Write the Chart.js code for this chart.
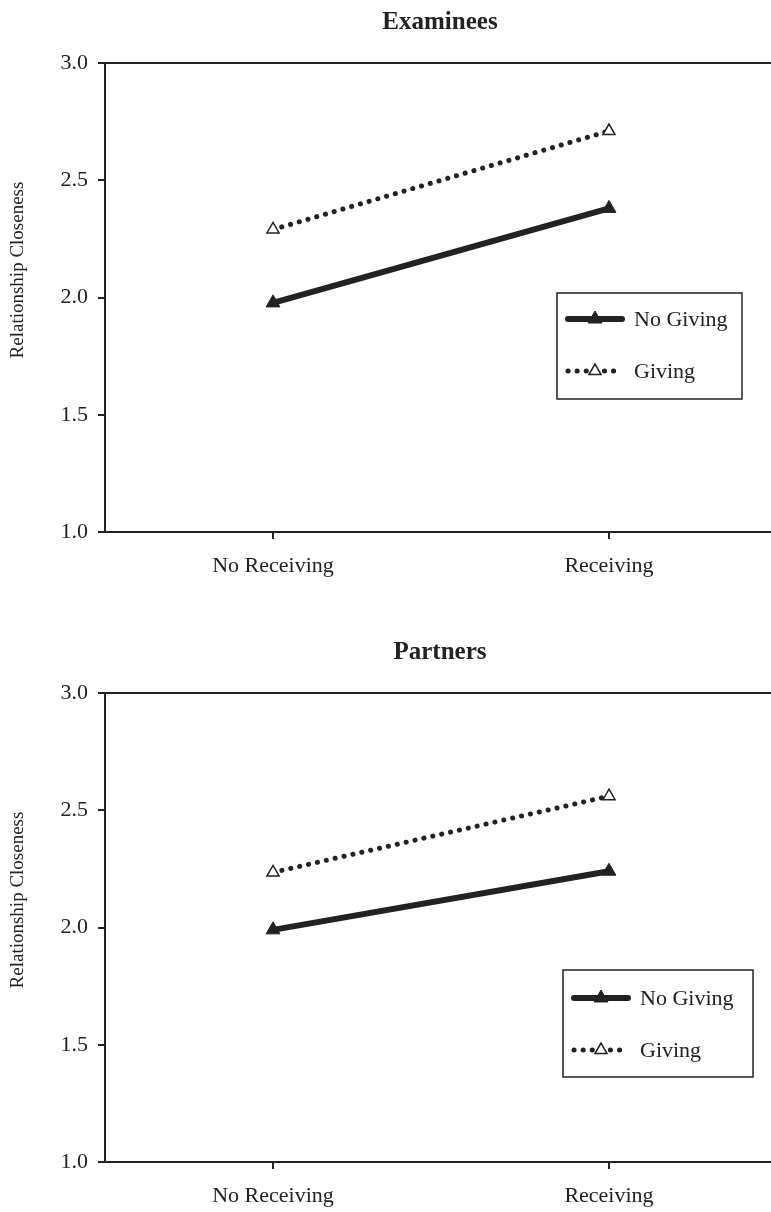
<!DOCTYPE html>
<html>
<head>
<meta charset="utf-8">
<script src="https://cdn.jsdelivr.net/npm/chart.js@4/dist/chart.umd.min.js"></script>
<style>
  html, body { margin: 0; padding: 0; background: #fff; overflow: hidden; }
  #wrap { position: relative; width: 771px; height: 1212px; overflow: hidden; }
  canvas { position: absolute; left: 0; }
  #c1 { top: 0; }
  #c2 { top: 630px; }
</style>
</head>
<body>
<div id="wrap">
  <canvas id="c1" width="786" height="600"></canvas>
  <canvas id="c2" width="786" height="600"></canvas>
</div>
<script>
// Data
var categories = ['No Receiving', 'Receiving'];
var seriesNames = ['No Giving', 'Giving'];
var examineesNoGiving = [1.977, 2.38];
var examineesGiving = [2.29, 2.71];
var partnersNoGiving = [1.99, 2.24];
var partnersGiving = [2.235, 2.56];
var yTicks = [1.0, 1.5, 2.0, 2.5, 3.0];

var INK = '#222';
var SERIF = '"Liberation Serif", "Times New Roman", serif';

// title, axis title, top frame line and legend box
var framePlugin = {
    id: 'frameLegend',
    afterDraw: function(chart, args, opts) {
        var ctx = chart.ctx;
        var area = chart.chartArea;
        ctx.save();

        // panel title, centred over the plot
        ctx.fillStyle = INK;
        ctx.font = 'bold 25px ' + SERIF;
        ctx.textAlign = 'center';
        ctx.textBaseline = 'alphabetic';
        ctx.fillText(opts.title, (area.left + area.right) / 2 - 1, 29);

        // y axis title (sits a bit above the middle in the original)
        ctx.save();
        ctx.translate(18, area.top + 207);
        ctx.rotate(-Math.PI / 2);
        ctx.font = '19px ' + SERIF;
        ctx.textBaseline = 'middle';
        ctx.fillText('Relationship Closeness', 0, 0);
        ctx.restore();

        ctx.strokeStyle = INK;
        ctx.lineWidth = 2;
        ctx.beginPath();
        ctx.moveTo(area.left, area.top);
        ctx.lineTo(area.right, area.top);
        ctx.stroke();

        var bx = area.left + opts.x, by = area.top + opts.y;
        ctx.lineWidth = 1.5;
        ctx.strokeRect(bx, by, opts.w, opts.h);

        chart.data.datasets.forEach(function(ds, i) {
            var rowY = by + opts.rows[i];
            var x0 = bx + 11, x1 = bx + 65;
            ctx.save();
            ctx.strokeStyle = ds.borderColor;
            ctx.lineWidth = ds.borderWidth;
            ctx.lineCap = 'round';
            ctx.setLineDash(ds.borderDash || []);
            ctx.beginPath();
            ctx.moveTo(x0, rowY);
            ctx.lineTo(x1, rowY);
            ctx.stroke();
            ctx.restore();

            ctx.fillStyle = ds.pointBackgroundColor;
            ctx.strokeStyle = ds.pointBorderColor;
            ctx.lineWidth = ds.pointBorderWidth;
            ctx.beginPath();
            var r = ds.pointRadius, cx = (x0 + x1) / 2;
            ctx.moveTo(cx, rowY - r);
            ctx.lineTo(cx + r * 0.866, rowY + r / 2);
            ctx.lineTo(cx - r * 0.866, rowY + r / 2);
            ctx.closePath();
            ctx.fill();
            ctx.stroke();

            ctx.fillStyle = INK;
            ctx.font = '22px ' + SERIF;
            ctx.textAlign = 'left';
            ctx.textBaseline = 'middle';
            ctx.fillText(ds.label, bx + 77, rowY + 1);
        });
        ctx.restore();
    }
};

function makeChart(id, title, noGiving, giving, legendBox) {
    legendBox.title = title;
    var ctx = document.getElementById(id).getContext('2d');
    return new Chart(ctx, {
        type: 'line',
        data: {
            labels: categories,
            datasets: [{
                label: seriesNames[0],
                data: noGiving,
                borderColor: INK,
                borderWidth: 6,
                borderCapStyle: 'round',
                pointStyle: 'triangle',
                pointRadius: 8,
                pointBackgroundColor: INK,
                pointBorderColor: INK,
                pointBorderWidth: 1
            }, {
                label: seriesNames[1],
                data: giving,
                borderColor: INK,
                borderWidth: 5,
                borderCapStyle: 'round',
                borderDash: [0.1, 9],
                pointStyle: 'triangle',
                pointRadius: 7,
                pointBackgroundColor: '#fff',
                pointBorderColor: INK,
                pointBorderWidth: 1.5
            }]
        },
        options: {
            responsive: false,
            animation: false,
            layout: { padding: { left: 0, right: 5, top: 63, bottom: 0 } },
            plugins: {
                legend: { display: false },
                tooltip: { enabled: false },
                title: { display: false },
                frameLegend: legendBox
            },
            scales: {
                x: {
                    type: 'category',
                    offset: true,
                    afterFit: function(s) { s.height = 68; },
                    border: { color: INK, width: 2 },
                    grid: { drawOnChartArea: false, drawTicks: true, tickLength: 7, color: INK, lineWidth: 2 },
                    ticks: { color: INK, padding: 14, font: { family: SERIF, size: 22 } }
                },
                y: {
                    min: 1,
                    max: 3,
                    afterFit: function(s) { s.width = 105; },
                    afterBuildTicks: function(s) { s.ticks = yTicks.map(function(v) { return { value: v }; }); },
                    border: { color: INK, width: 2 },
                    grid: { drawOnChartArea: false, drawTicks: true, tickLength: 7, color: INK, lineWidth: 2 },
                    ticks: {
                        color: INK,
                        padding: 10,
                        font: { family: SERIF, size: 22 },
                        callback: function(v) { return Number(v).toFixed(1); }
                    }
                }
            }
        },
        plugins: [framePlugin]
    });
}

makeChart('c1', 'Examinees', examineesNoGiving, examineesGiving,
    { x: 452, y: 230, w: 185, h: 106, rows: [26, 78] });
makeChart('c2', 'Partners', partnersNoGiving, partnersGiving,
    { x: 458, y: 277, w: 190, h: 107, rows: [28, 80] });
</script>
</body>
</html>
